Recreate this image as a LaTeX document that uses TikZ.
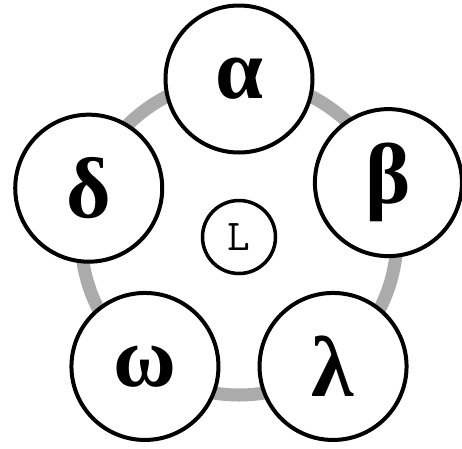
\documentclass[tikz,border=0pt]{standalone}
\usepackage{fontspec}
\setmainfont{Liberation Serif}
\usepackage{tikz}
\usetikzlibrary{shadows}

\begin{document}
\begin{tikzpicture}[
      letter/.style={draw,circle,line width=4pt,fill=white,minimum size=147pt,
                     inner sep=0pt,drop shadow={shadow xshift=0pt,shadow yshift=-2pt,opacity=.25},
                     font=\bfseries\fontsize{86}{86}\selectfont},
      core/.style={draw,circle,line width=3.5pt,fill=white,minimum size=73pt,
                   inner sep=0pt,drop shadow={shadow xshift=0pt,shadow yshift=-2pt,opacity=.25},
                   font=\ttfamily\fontsize{44}{44}\selectfont},
      ring/.style={line width=13pt,draw=black!33},
    ]
    \useasboundingbox (-239pt,-211pt) rectangle (223pt,237pt);

    % centre
    \node[core] (L) at (0,0) {L};

    % ring behind the letters
    \draw[ring] (L.center) circle (158pt);

    % letters round the ring
    \node[letter] (alpha)  at (90:158pt)   {α};
    \node[letter] (beta)   at (20:159pt)   {β};
    \node[letter] (lambda) at (-54:160pt)  {λ};
    \node[letter] (omega)  at (-126:160pt) {ω};
    \node[letter] (delta)  at (162:158pt)  {δ};
  \end{tikzpicture}
\end{document}
